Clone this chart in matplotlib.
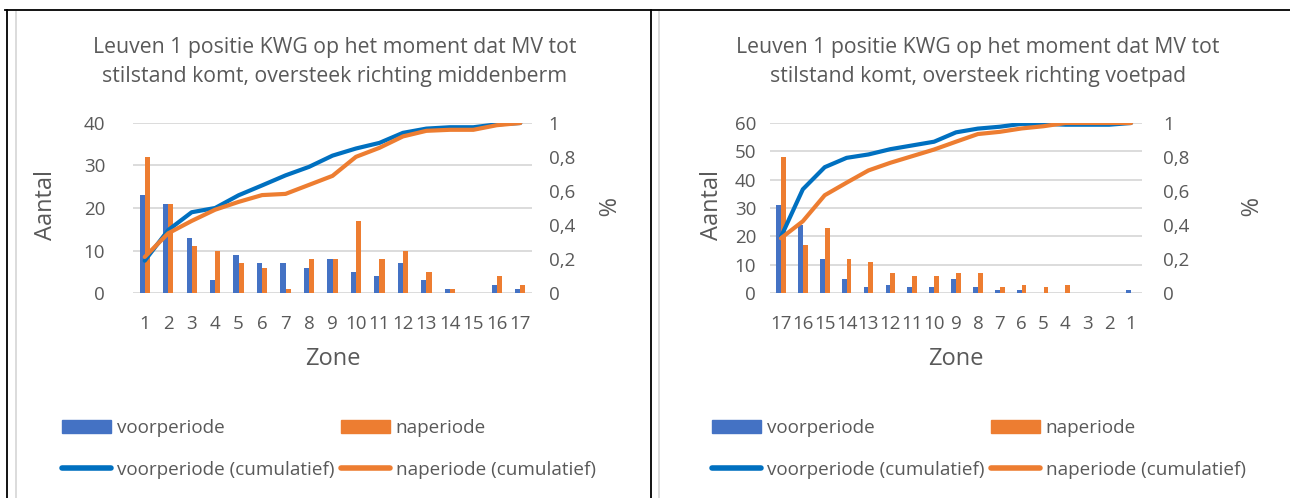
import matplotlib
matplotlib.use("Agg")
import matplotlib.pyplot as plt
from matplotlib.patches import Patch
from matplotlib.lines import Line2D

# data
zones_left = ["1", "2", "3", "4", "5", "6", "7", "8", "9", "10", "11", "12", "13", "14", "15", "16", "17"]
voor_left = [23, 21, 13, 3, 9, 7, 7, 6, 8, 5, 4, 7, 3, 1, 0, 2, 1]
na_left = [32, 21, 11, 10, 7, 6, 1, 8, 8, 17, 8, 10, 5, 1, 0, 4, 2]
voor_cum_left = [0.19, 0.37, 0.475, 0.50, 0.575, 0.633, 0.692, 0.742, 0.808, 0.85, 0.883, 0.942, 0.967, 0.975, 0.975, 0.992, 1.0]
na_cum_left = [0.212, 0.351, 0.424, 0.49, 0.536, 0.576, 0.583, 0.636, 0.689, 0.801, 0.854, 0.921, 0.954, 0.96, 0.96, 0.987, 1.0]

zones_right = ["17", "16", "15", "14", "13", "12", "11", "10", "9", "8", "7", "6", "5", "4", "3", "2", "1"]
voor_right = [31, 24, 12, 5, 2, 3, 2, 2, 5, 2, 1, 1, 0, 0, 0, 0, 1]
na_right = [48, 17, 23, 12, 11, 7, 6, 6, 7, 7, 2, 3, 2, 3, 0, 0, 0]
voor_cum_right = [0.33, 0.61, 0.74, 0.795, 0.815, 0.846, 0.868, 0.89, 0.945, 0.967, 0.978, 0.995, 0.995, 0.99, 0.99, 0.99, 1.0]
na_cum_right = [0.322, 0.422, 0.575, 0.649, 0.721, 0.766, 0.805, 0.844, 0.89, 0.935, 0.948, 0.968, 0.981, 1.0, 1.0, 1.0, 1.0]

titles = ["Leuven 1 positie KWG op het moment dat MV tot\nstilstand komt, oversteek richting middenberm",
          "Leuven 1 positie KWG op het moment dat MV tot\nstilstand komt, oversteek richting voetpad"]

plt.rcParams['font.family'] = ['Open Sans', 'DejaVu Sans']
TXT = '#595959'
BLUE_BAR = '#4472C4'
ORANGE = '#ED7D31'
BLUE_LINE = '#0070C0'
GRID = '#D9D9D9'

W, H = 1290, 498
fig = plt.figure(figsize=(W / 100, H / 100), dpi=100)


def rect(x0, y0, x1, y1):
    return [x0 / W, 1 - y1 / H, (x1 - x0) / W, (y1 - y0) / H]


def draw_chart(box, labels, voor, na, voor_cum, na_cum, ymax, ystep, title,
               tcx, lpad, rpad, ylab_x, pct_x, leg_x):
    ax = fig.add_axes(rect(*box))
    x = list(range(len(labels)))
    bw = 0.22
    ax.bar([i - bw / 2 for i in x], voor, width=bw, color=BLUE_BAR, zorder=2)
    ax.bar([i + bw / 2 for i in x], na, width=bw, color=ORANGE, zorder=2)
    ax.set_xlim(-0.5, len(labels) - 0.5)
    ax.set_ylim(0, ymax)
    ax.set_yticks(range(0, ymax + 1, ystep))
    ax.set_xticks(x)
    ax.set_xticklabels(labels)
    ax.grid(axis='y', color=GRID, lw=1.3, zorder=0)
    ax.set_axisbelow(True)
    for s in ax.spines.values():
        s.set_visible(False)
    ax.tick_params(axis='y', length=0, pad=lpad, labelsize=13.5, labelcolor=TXT)
    ax.tick_params(axis='x', length=0, pad=16, labelsize=13.5, labelcolor=TXT)

    ax2 = ax.twinx()
    ax2.plot(x, voor_cum, color=BLUE_LINE, lw=3.0, solid_joinstyle='round', solid_capstyle='round', zorder=3)
    ax2.plot(x, na_cum, color=ORANGE, lw=3.0, solid_joinstyle='round', solid_capstyle='round', zorder=4)
    ax2.set_ylim(0, 1)
    ax2.set_yticks([0, 0.2, 0.4, 0.6, 0.8, 1])
    ax2.set_yticklabels(["0", "0,2", "0,4", "0,6", "0,8", "1"])
    for s in ax2.spines.values():
        s.set_visible(False)
    ax2.tick_params(axis='y', length=0, pad=rpad, labelsize=13.5, labelcolor=TXT)

    fig.text(tcx / W, 1 - 62 / H, title, ha='center', va='center', fontsize=15.3,
             color=TXT, linespacing=1.45)
    fig.text(ylab_x / W, 1 - 205 / H, "Aantal", rotation=90, ha='center', va='center',
             fontsize=17, color=TXT)
    fig.text(pct_x / W, 1 - 208 / H, "%", rotation=270, ha='center', va='center',
             fontsize=17, color=TXT)
    fig.text((box[0] + box[2]) / 2 / W, 1 - 359 / H, "Zone", ha='center', va='center',
             fontsize=17, color=TXT)

    handles = [Patch(color=BLUE_BAR), Line2D([], [], color=BLUE_LINE, lw=4, solid_capstyle='round'),
               Patch(color=ORANGE), Line2D([], [], color=ORANGE, lw=4, solid_capstyle='round')]
    names = ["voorperiode", "voorperiode (cumulatief)", "naperiode", "naperiode (cumulatief)"]
    fig.legend(handles, names, ncol=2, loc='upper left', bbox_to_anchor=(leg_x / W, 1 - 419 / H),
               frameon=False, fontsize=13.6, labelcolor=TXT, handlelength=2.6, handleheight=0.7,
               handletextpad=0.3, columnspacing=0.35, labelspacing=1.25, borderpad=0, borderaxespad=0)


draw_chart((133, 123, 532, 293), zones_left, voor_left, na_left, voor_cum_left, na_cum_left,
           40, 10, titles[0], 335, 20, 12, 46, 603, 62)
draw_chart((770, 123, 1142, 293), zones_right, voor_right, na_right, voor_cum_right, na_cum_right,
           60, 10, titles[1], 978, 10, 15, 712, 1245, 712)

# table borders around the two charts
fig.add_artist(Line2D([5 / W, 1], [1 - 10.5 / H] * 2, color='black', lw=1.3))
fig.add_artist(Line2D([7 / W] * 2, [0, 1 - 10 / H], color='black', lw=1.3))
fig.add_artist(Line2D([651 / W] * 2, [0, 1 - 10 / H], color='black', lw=1.3))
fig.add_artist(Line2D([16 / W] * 2, [0, 1 - 12 / H], color=GRID, lw=1.3))
fig.add_artist(Line2D([659 / W] * 2, [0, 1 - 12 / H], color=GRID, lw=1.3))

fig.savefig("out.png", dpi=100)
